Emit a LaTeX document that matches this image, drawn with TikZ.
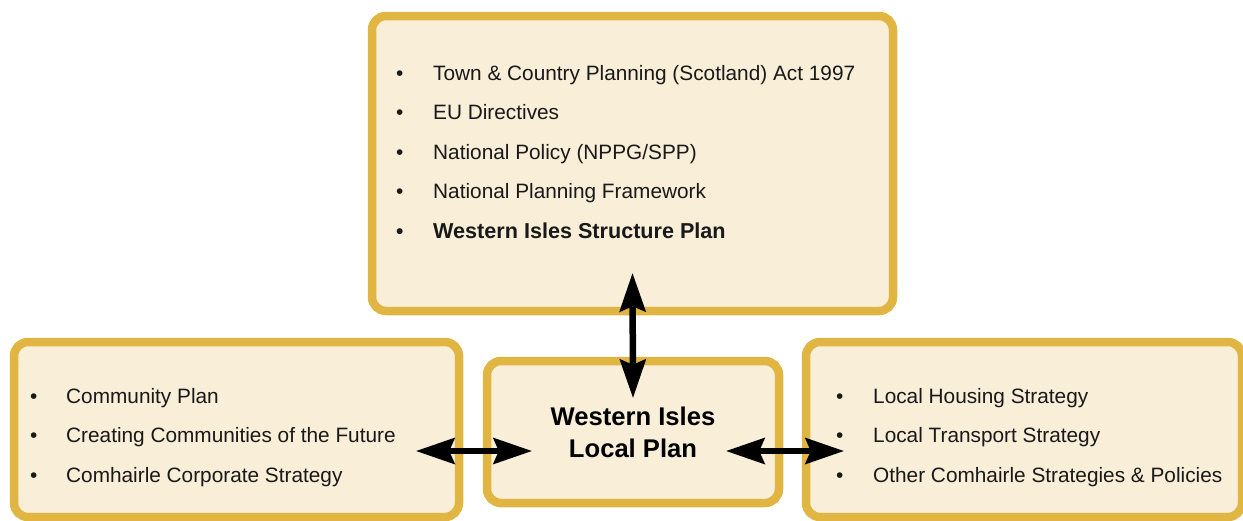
\documentclass[tikz,border=0pt]{standalone}
\usepackage{fontspec}
\setmainfont{Liberation Sans}
\usetikzlibrary{arrows.meta}
\definecolor{boxline}{RGB}{225,181,66}
\definecolor{boxfill}{RGB}{249,238,216}
\definecolor{ink}{RGB}{25,25,25}
\tikzset{
  planbox/.style={draw=boxline, fill=boxfill, line width=8.5pt,
    rounded corners=14pt, inner sep=0pt},
  item/.style={anchor=base west, inner sep=0pt, text=ink,
    font=\fontsize{20.8}{24}\selectfont},
  bolditem/.style={item, font=\fontsize{21.6}{24}\selectfont\bfseries},
  dot/.style={anchor=base west, inner sep=0pt, text=ink,
    font=\fontsize{20.8}{24}\selectfont},
  title/.style={anchor=base, inner sep=0pt, text=black,
    font=\fontsize{25.6}{30}\selectfont\bfseries},
  link/.style={line width=6.5pt, black,
    {Stealth[length=39pt,width=27pt,inset=6pt,line width=0pt]}-{Stealth[length=39pt,width=27pt,inset=6pt,line width=0pt]}}
}
\begin{document}
\begin{tikzpicture}[x=1pt,y=-1pt]
  \useasboundingbox (0,0) rectangle (1243,520);
  \clip (0,0) rectangle (1243,520);

  % boxes
  \node[planbox, minimum width=521pt, minimum height=295pt] (top) at (632.5,163.5) {};
  \node[planbox, minimum width=445pt, minimum height=175pt] (lbox) at (236.5,429.5) {};
  \node[planbox, minimum width=292pt, minimum height=142pt] (mid) at (633,432) {};
  \node[planbox, minimum width=436pt, minimum height=175pt] (rbox) at (1024,429.5) {};

  % statutory and national context
  \node[dot] (t1b) at (396,80) {•};
  \node[item] (t1) at (433,80) {Town \& Country Planning (Scotland) Act 1997};
  \node[dot] (t2b) at (396,119.5) {•};
  \node[item] (t2) at (433,119.5) {EU Directives};
  \node[dot] (t3b) at (396,159) {•};
  \node[item] (t3) at (433,159) {National Policy (NPPG/SPP)};
  \node[dot] (t4b) at (396,198.5) {•};
  \node[item] (t4) at (433,198.5) {National Planning Framework};
  \node[dot, font=\fontsize{20.8}{24}\selectfont\bfseries] (t5b) at (396,238) {•};
  \node[bolditem] (t5) at (433,238) {Western Isles Structure Plan};

  % community strategies
  \node[dot] (l1b) at (30,403) {•};
  \node[item] (l1) at (66,403) {Community Plan};
  \node[dot] (l2b) at (30,442.5) {•};
  \node[item] (l2) at (66,442.5) {Creating Communities of the Future};
  \node[dot] (l3b) at (30,482) {•};
  \node[item] (l3) at (66,482) {Comhairle Corporate Strategy};

  % local strategies
  \node[dot] (r1b) at (836,403) {•};
  \node[item] (r1) at (873,403) {Local Housing Strategy};
  \node[dot] (r2b) at (836,442.5) {•};
  \node[item] (r2) at (873,442.5) {Local Transport Strategy};
  \node[dot] (r3b) at (836,482) {•};
  \node[item] (r3) at (873,482) {Other Comhairle Strategies \& Policies};

  % local plan
  \node[title] (m1) at (633,425) {Western Isles};
  \node[title] (m2) at (633,457) {Local Plan};

  % two-way links
  \draw[link] ([yshift=42pt]top.south) -- ([yshift=-41pt]mid.north);
  \draw[link] ([xshift=-47pt,yshift=-21.5pt]lbox.east) -- ([xshift=49pt,yshift=-19pt]mid.west);
  \draw[link] ([xshift=-57pt,yshift=-19pt]mid.east) -- ([xshift=42pt,yshift=-21.5pt]rbox.west);
\end{tikzpicture}
\end{document}
